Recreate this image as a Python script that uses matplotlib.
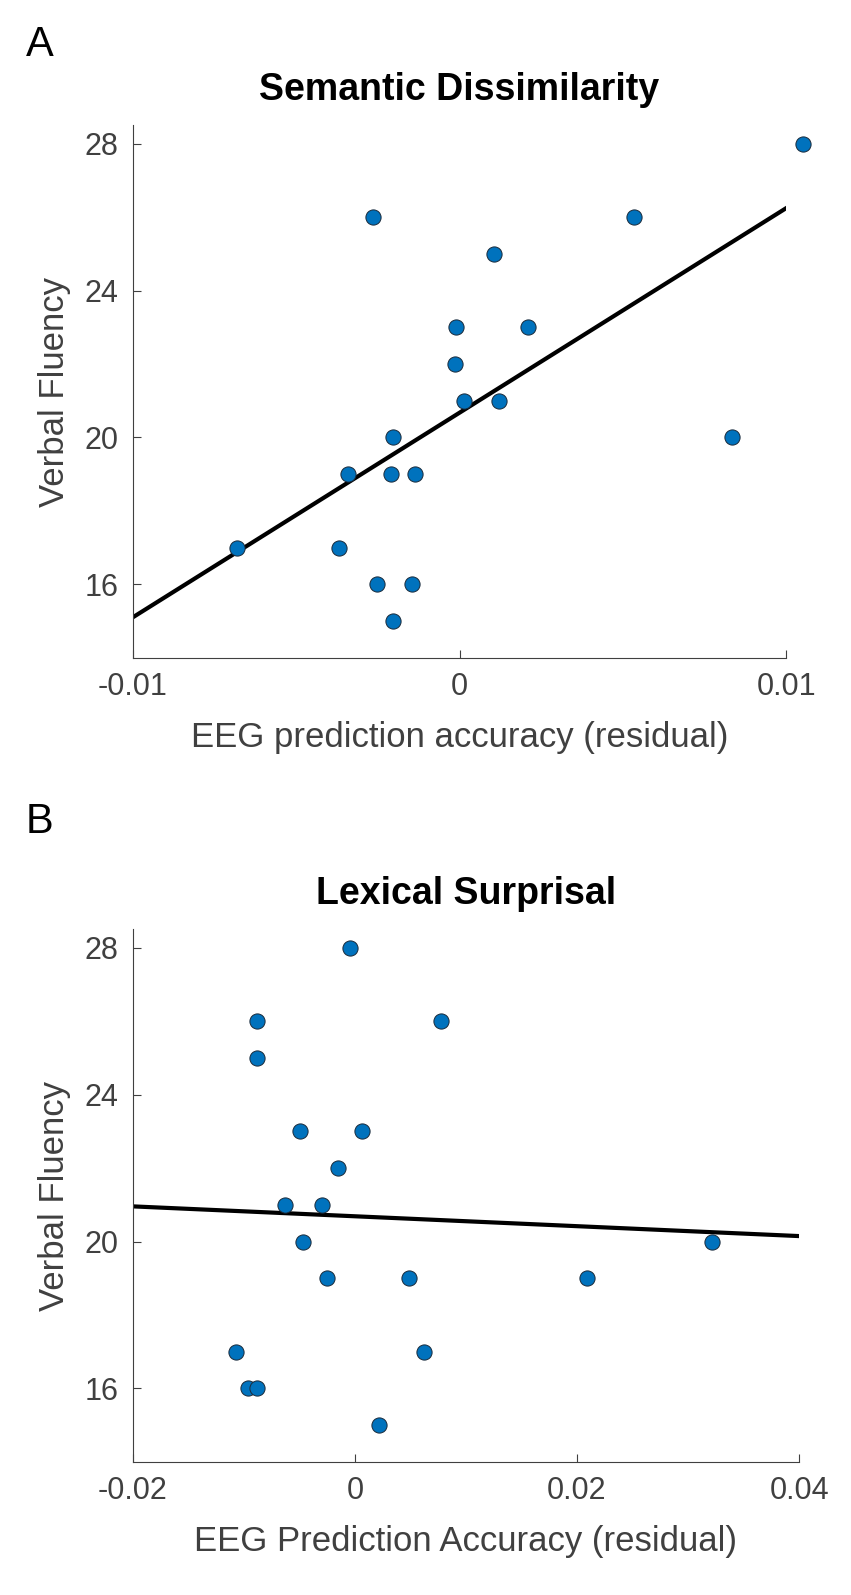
import numpy as np
import matplotlib.pyplot as plt

plt.rcParams['font.family'] = ['Liberation Sans', 'DejaVu Sans']

# Panel A: semantic dissimilarity
sem_x = [-0.00266, 0.00535, 0.0105, 0.00104, -0.0001, 0.0021, -0.00015, 0.00015, 0.0012,
         -0.00205, 0.00835, -0.0034, -0.0021, -0.00135, -0.0068, -0.0037, -0.00254, -0.00147, -0.00205]
sem_y = [26, 26, 28, 25, 23, 23, 22, 21, 21, 20, 20, 19, 19, 19, 17, 17, 16, 16, 15]

# Panel B: lexical surprisal
lex_x = [-0.0004, -0.0088, 0.0078, -0.0088, -0.0049, 0.0006, -0.0015, -0.0063, -0.003,
         -0.0047, 0.0322, -0.0025, 0.0049, 0.0209, -0.0107, 0.0062, -0.0096, -0.0088, 0.0022]
lex_y = [28, 26, 26, 25, 23, 23, 22, 21, 21, 20, 20, 19, 19, 19, 17, 17, 16, 16, 15]

gray = '#404040'
fig = plt.figure(figsize=(8.51, 15.95), dpi=100)
axA = fig.add_axes([0.156, 0.5875, 0.768, 0.334])
axB = fig.add_axes([0.156, 0.0834, 0.783, 0.334])

def panel(ax, x, y, xlim, xticks, xticklabels, title, xlabel):
    ax.scatter(x, y, s=120, color='#0072BD', edgecolor='#1a2a3a', linewidth=0.7, zorder=3, clip_on=False)
    k, b = np.polyfit(x, y, 1)
    xs = np.array(xlim)
    ax.plot(xs, k * xs + b, color='black', lw=3, zorder=2)
    ax.set_xlim(xlim)
    ax.set_ylim(14, 28.5)
    ax.set_xticks(xticks)
    ax.set_xticklabels(xticklabels)
    ax.set_yticks([16, 20, 24, 28])
    for s in ['top', 'right']:
        ax.spines[s].set_visible(False)
    for s in ['left', 'bottom']:
        ax.spines[s].set_color(gray)
    ax.tick_params(colors=gray, labelsize=22, direction='in', length=6, pad=10)
    ax.set_title(title, fontsize=27, fontweight='bold', pad=18)
    ax.set_xlabel(xlabel, fontsize=25, color=gray, labelpad=14)
    ax.set_ylabel('Verbal Fluency', fontsize=25, color=gray, labelpad=10)

panel(axA, sem_x, sem_y, (-0.01, 0.01), [-0.01, 0, 0.01], ['-0.01', '0', '0.01'],
      'Semantic Dissimilarity', 'EEG prediction accuracy (residual)')
panel(axB, lex_x, lex_y, (-0.02, 0.04), [-0.02, 0, 0.02, 0.04], ['-0.02', '0', '0.02', '0.04'],
      'Lexical Surprisal', 'EEG Prediction Accuracy (residual)')

fig.text(0.03, 0.965, 'A', fontsize=30)
fig.text(0.03, 0.478, 'B', fontsize=30)
fig.savefig('out.png', dpi=100)
